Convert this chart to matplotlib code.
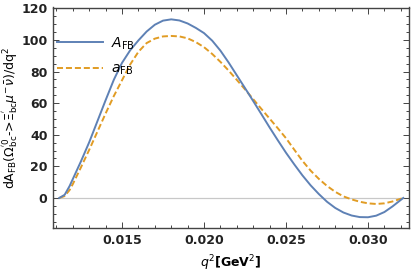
import numpy as np
import matplotlib
matplotlib.use('Agg')
import matplotlib.pyplot as plt
from matplotlib.ticker import MultipleLocator

# ----------
# Data

q2 = [0.01117, 0.0115, 0.0118, 0.0120, 0.0125, 0.0130, 0.0135, 0.0140, 0.0145,
      0.0150, 0.0155, 0.0160, 0.0165, 0.0170, 0.0175, 0.0180, 0.0185, 0.0190,
      0.0195, 0.0200, 0.0205, 0.0210, 0.0215, 0.0220, 0.0225, 0.0230, 0.0235,
      0.0240, 0.0245, 0.0250, 0.0255, 0.0260, 0.0265, 0.0270, 0.0275, 0.0280,
      0.0285, 0.0290, 0.0295, 0.0300, 0.0305, 0.0310, 0.0315, 0.03215]

A_FB = [0.0, 2.0, 7.5, 12.0, 23.3, 35.3, 48.6, 61.9, 74.8,
        85.5, 93.5, 99.7, 105.3, 109.6, 112.2, 113.0, 112.3, 110.4,
        107.6, 104.3, 99.5, 93.2, 85.7, 77.6, 69.5, 61.3, 53.0,
        44.6, 36.5, 28.6, 21.3, 14.3, 8.0, 2.5, -2.4, -6.3,
        -9.2, -11.1, -12.1, -12.2, -11.2, -8.9, -5.3, 0.0]

a_FB = [0.0, 1.2, 5.0, 8.8, 19.5, 30.5, 42.0, 53.5, 64.5,
        74.5, 84.5, 92.5, 98.0, 100.8, 102.2, 102.5, 102.2, 101.0,
        98.6, 95.4, 91.1, 86.1, 80.6, 74.7, 68.7, 62.5, 56.3,
        50.2, 44.1, 37.8, 30.6, 23.5, 17.3, 12.1, 7.6, 3.9,
        1.0, -0.9, -2.4, -3.4, -3.8, -3.4, -2.2, 0.0]

xticks = [0.015, 0.020, 0.025, 0.030]
yticks = [0, 20, 40, 60, 80, 100, 120]

# ----------

blue = '#5e81b5'
orange = '#e19c24'
frame = '#444444'

matplotlib.rc('mathtext', fontset='dejavusans')

fig = plt.figure(figsize=(4.15, 2.74), dpi=100)
ax = fig.add_axes([53/415, 1-228/274, (409-53)/415, (228-7.5)/274])

ax.axhline(0, color='#c8c8c8', lw=0.9, zorder=1)

ax.plot(q2, A_FB, color=blue, lw=1.4, label=r'$A_{\rm FB}$', zorder=3)
ax.plot(q2, a_FB, color=orange, lw=1.4, dashes=(3.1, 1.5),
        label=r'$a_{\rm FB}$', zorder=2)

ax.set_xlim(0.01079, 0.0325)
ax.set_ylim(-19, 120.5)

ax.set_xticks(xticks)
ax.set_xticklabels(['%.3f' % v for v in xticks])
ax.set_yticks(yticks)
ax.xaxis.set_minor_locator(MultipleLocator(0.001))
ax.yaxis.set_minor_locator(MultipleLocator(5))

ax.tick_params(which='both', direction='in', top=True, right=True,
               color=frame, width=0.7)
ax.tick_params(which='major', length=4, labelsize=9, pad=4)
ax.tick_params(which='minor', length=2)
for sp in ax.spines.values():
    sp.set_color(frame)
    sp.set_linewidth(1.0)
for lab in ax.get_xticklabels() + ax.get_yticklabels():
    lab.set_fontweight('bold')
    lab.set_color('#222222')

ax.set_xlabel(r'$q^2$[GeV$^2$]', fontsize=9, fontweight='bold', labelpad=5)
ax.set_ylabel(r"dA$_{\rm FB}$($\Omega^{'0}_{\rm bc}$->$\Xi^{'}_{\rm bc}\mu^{-}\bar{\nu}$)/dq$^2$",
              fontsize=9)
ax.yaxis.set_label_coords(-0.092, 0.5)

leg = ax.legend(loc='upper left', bbox_to_anchor=(-0.005, 0.9), frameon=False,
                fontsize=10, handlelength=3.3, handletextpad=0.6,
                labelspacing=0.75, borderaxespad=0)

plt.savefig('out.png', dpi=100)
